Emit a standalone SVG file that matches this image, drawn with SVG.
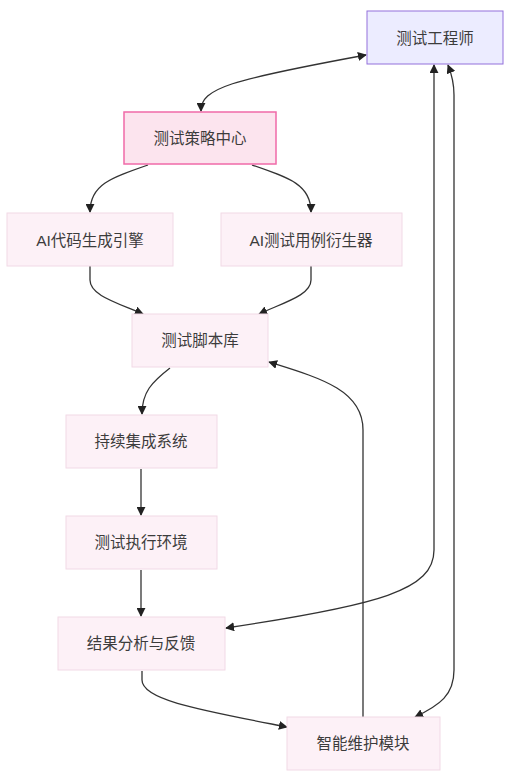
<svg xmlns="http://www.w3.org/2000/svg" width="511" height="782" viewBox="0 0 511 782">
<style>
.n rect{fill:#fdf1f7;stroke:#f1d9e6;stroke-width:1}
.n text{font-family:"Liberation Sans","Noto Sans CJK SC",sans-serif;font-size:15.5px;fill:#3c3c3c;text-anchor:middle;dominant-baseline:central}
.e path{fill:none;stroke:#333;stroke-width:1.3}
</style>
<defs>
<marker id="arr" viewBox="0 0 10 10" refX="9" refY="5" markerWidth="9" markerHeight="9" markerUnits="userSpaceOnUse" orient="auto-start-reverse">
<path d="M0,0 L10,5 L0,10 z" fill="#222"/>
</marker>
</defs>
<rect width="511" height="782" fill="#fff"/>
<g class="e" id="edges">
<path d="M201,111 C201,88 230,80 366,55" marker-start="url(#arr)" marker-end="url(#arr)"/>
<path d="M148,165 C110,178 90,185 90,212" marker-end="url(#arr)"/>
<path d="M252,165 C290,178 311,185 311,212" marker-end="url(#arr)"/>
<path d="M90,266 L90,280 C90,295 115,302 143,314" marker-end="url(#arr)"/>
<path d="M311,266 L311,280 C311,295 285,302 259,314" marker-end="url(#arr)"/>
<path d="M170,368 C152,382 142,392 142,414" marker-end="url(#arr)"/>
<path d="M141,469 L141,515" marker-end="url(#arr)"/>
<path d="M141,570 L141,616" marker-end="url(#arr)"/>
<path d="M142,671 L142,680 C142,700 200,710 287,727" marker-end="url(#arr)"/>
<path d="M363,717 L363,430 C363,390 320,378 269,362" marker-end="url(#arr)"/>
<path d="M434,65 L434,550 C434,590 380,605 226,628" marker-start="url(#arr)" marker-end="url(#arr)"/>
<path d="M448,65 C452,75 454,85 454,95 L454,670 C454,695 440,705 415,717" marker-start="url(#arr)" marker-end="url(#arr)"/>
</g>
<g class="n" id="engineer"><rect x="367" y="11" width="136" height="53" style="fill:#ececff;stroke:#9370db"/><text x="435" y="38">测试工程师</text></g>
<g class="n" id="strategy"><rect x="124" y="112" width="152" height="52" style="fill:#fce4ee;stroke:#f06aa8;stroke-width:1.5"/><text x="200" y="138">测试策略中心</text></g>
<g class="n" id="codegen"><rect x="7" y="213" width="166" height="53"/><text x="90" y="240">AI代码生成引擎</text></g>
<g class="n" id="casegen"><rect x="221" y="213" width="181" height="53"/><text x="311" y="240">AI测试用例衍生器</text></g>
<g class="n" id="scriptlib"><rect x="132" y="314" width="136" height="53"/><text x="200" y="340">测试脚本库</text></g>
<g class="n" id="ci"><rect x="66" y="415" width="151" height="53"/><text x="141" y="441">持续集成系统</text></g>
<g class="n" id="exec"><rect x="66" y="516" width="151" height="53"/><text x="141" y="542">测试执行环境</text></g>
<g class="n" id="analysis"><rect x="58" y="617" width="167" height="53"/><text x="141" y="643">结果分析与反馈</text></g>
<g class="n" id="maint"><rect x="287" y="717" width="153" height="53"/><text x="363" y="743">智能维护模块</text></g>
</svg>
